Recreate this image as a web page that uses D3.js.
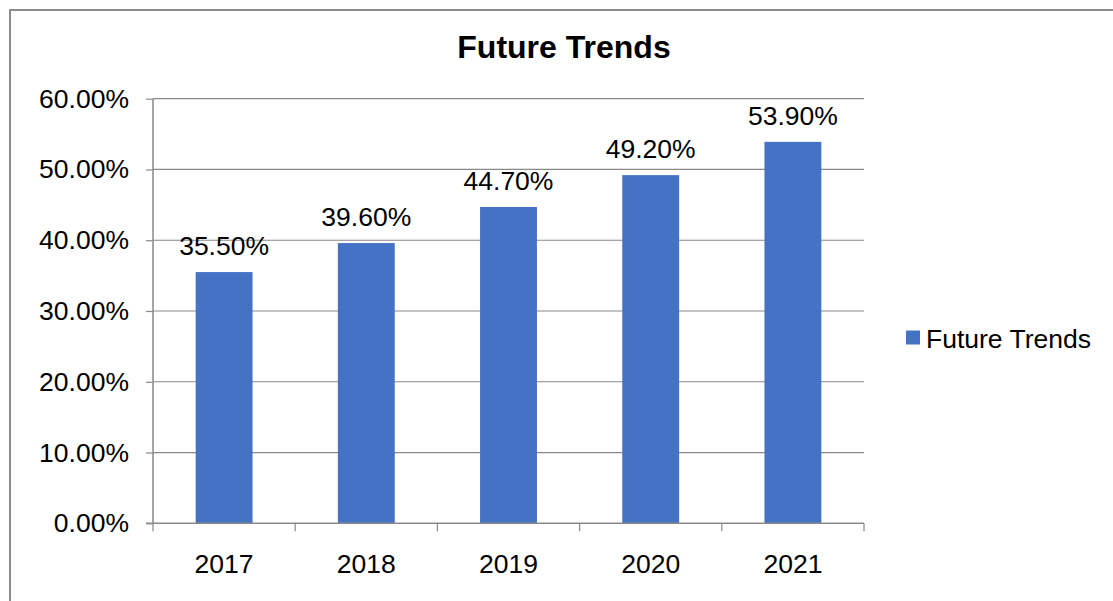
<!DOCTYPE html>
<html>
<head>
<meta charset="utf-8">
<script src="https://cdn.jsdelivr.net/npm/d3@7"></script>
<style>
  html, body { margin: 0; padding: 0; background: #fff; }
  svg { display: block; font-family: "Liberation Sans", Arial, sans-serif; }
</style>
</head>
<body>
<svg id="chart" width="1113" height="601"></svg>
<script>
const categories = ["2017", "2018", "2019", "2020", "2021"];
const values = [0.355, 0.396, 0.447, 0.492, 0.539];
const yTicks = [0, 0.1, 0.2, 0.3, 0.4, 0.5, 0.6];
const seriesName = "Future Trends";
const chartTitle = "Future Trends";

const svg = d3.select("#chart");
const plot = { left: 153, right: 864, top: 98.7, bottom: 523.3 };
const barColor = "#4472C4";
const gridColor = "#898989";
const fmt = d3.format(".2%");
const fs = 26.5;

// outer border
svg.append("rect")
  .attr("x", 10).attr("y", 10)
  .attr("width", 1200).attr("height", 700)
  .attr("fill", "#fff")
  .attr("stroke", "#8c8c8c").attr("stroke-width", 2);

const x = d3.scaleBand().domain(categories).range([plot.left, plot.right]).padding(0);
const y = d3.scaleLinear().domain([0, 0.6]).range([plot.bottom, plot.top]);

// gridlines
svg.append("g").selectAll("line").data(yTicks.filter(d => d > 0)).join("line")
  .attr("x1", plot.left).attr("x2", plot.right)
  .attr("y1", d => y(d)).attr("y2", d => y(d))
  .attr("stroke", gridColor).attr("stroke-width", 1.2);

// bars
const barW = x.bandwidth() * 0.4;
svg.append("g").selectAll("rect").data(values).join("rect")
  .attr("x", (d, i) => x(categories[i]) + (x.bandwidth() - barW) / 2)
  .attr("y", d => y(d))
  .attr("width", barW)
  .attr("height", d => y(0) - y(d))
  .attr("fill", barColor);

// y axis
const yAxis = d3.axisLeft(y).tickValues(yTicks).tickFormat(fmt).tickSize(7).tickPadding(17);
const gy = svg.append("g").attr("transform", `translate(${plot.left},0)`).call(yAxis);
gy.select(".domain").attr("stroke", gridColor).attr("stroke-width", 1.5).attr("d", `M0,${plot.top}V${plot.bottom}`);
gy.selectAll(".tick line").attr("stroke", gridColor).attr("stroke-width", 1.2);
gy.selectAll(".tick text").attr("font-size", fs).attr("fill", "#000")
  .attr("font-family", "Liberation Sans, Arial, sans-serif");

// x axis (ticks at category boundaries)
const gx = svg.append("g").attr("transform", `translate(0,${plot.bottom})`);
gx.append("line").attr("x1", plot.left - 7).attr("x2", plot.right).attr("y1", 0).attr("y2", 0)
  .attr("stroke", gridColor).attr("stroke-width", 1.5);
const bounds = categories.map(c => x(c)).concat([plot.right]);
gx.selectAll("line.tk").data(bounds).join("line").attr("class", "tk")
  .attr("x1", d => d).attr("x2", d => d).attr("y1", 0).attr("y2", 8)
  .attr("stroke", gridColor).attr("stroke-width", 1.2);
gx.selectAll("text").data(categories).join("text")
  .attr("x", d => x(d) + x.bandwidth() / 2)
  .attr("y", 49.5)
  .attr("text-anchor", "middle")
  .attr("font-size", fs)
  .text(d => d);

// data labels
svg.append("g").selectAll("text").data(values).join("text")
  .attr("x", (d, i) => x(categories[i]) + x.bandwidth() / 2)
  .attr("y", d => y(d) - 17)
  .attr("text-anchor", "middle")
  .attr("font-size", fs)
  .text(d => fmt(d));

// title
svg.append("text")
  .attr("x", 564).attr("y", 57.5)
  .attr("text-anchor", "middle")
  .attr("font-size", 32)
  .attr("font-weight", "bold")
  .text(chartTitle);

// legend
const lg = svg.append("g");
lg.append("rect").attr("x", 906).attr("y", 330.5).attr("width", 14).attr("height", 14).attr("fill", barColor);
lg.append("text").attr("x", 926).attr("y", 347.5).attr("font-size", fs).text(seriesName);
</script>
</body>
</html>
